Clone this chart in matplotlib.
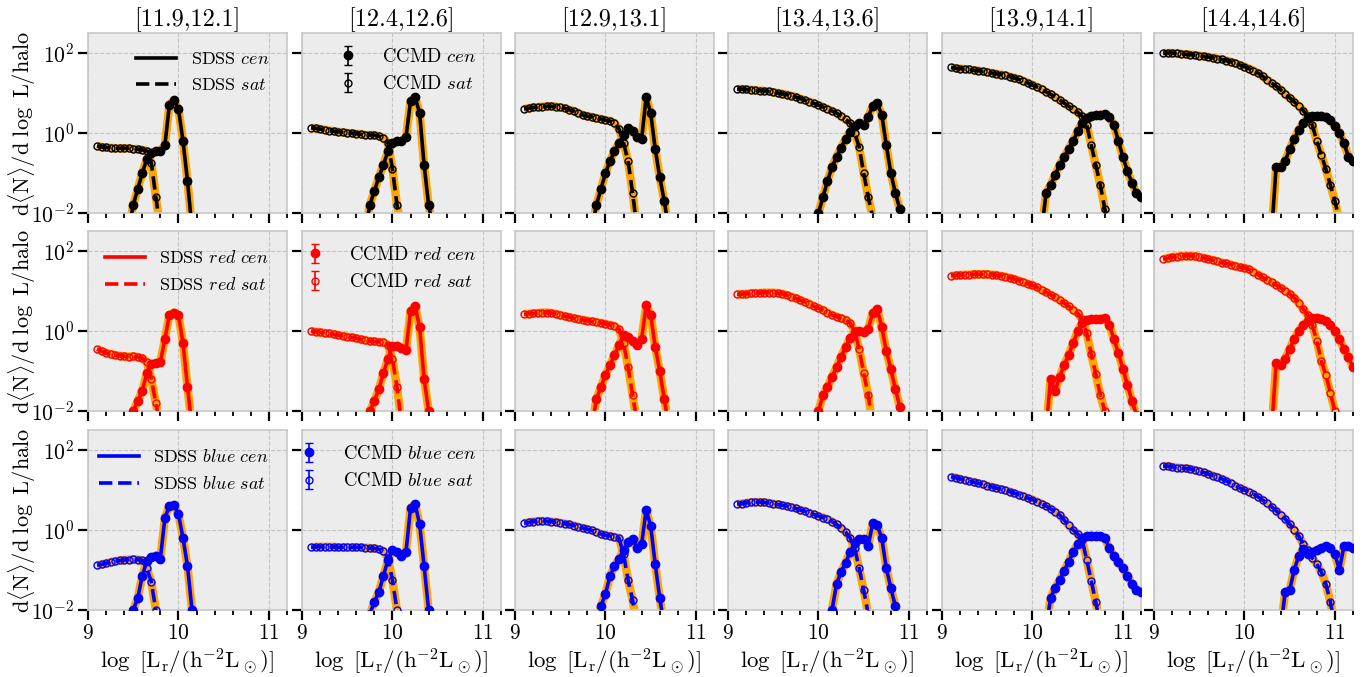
import numpy as np
import matplotlib
matplotlib.use("Agg")
import matplotlib.pyplot as plt
from matplotlib.lines import Line2D
from matplotlib.ticker import MultipleLocator, NullLocator

plt.rcParams['font.family'] = 'cmr10'
plt.rcParams['mathtext.fontset'] = 'cm'
plt.rcParams['axes.formatter.use_mathtext'] = True

# halo mass bins (log M) -> one column each
mass_bins = ['[11.9,12.1]', '[12.4,12.6]', '[12.9,13.1]',
             '[13.4,13.6]', '[13.9,14.1]', '[14.4,14.6]']
rows = ['all', 'red', 'blue']
row_colors = ['black', 'red', 'blue']

# bin width in log L for the tabulated CLFs
dlogL = 0.05

# log10 dN/dlogL; each curve starts at the listed log L
all_sat_x0 = [9.1, 9.1, 9.1, 9.1, 9.1, 9.1]
all_sat = [
    [-0.32, -0.35, -0.36, -0.37, -0.38, -0.38, -0.38, -0.38, -0.40, -0.40, -0.42, -0.45, -0.75, -1.6, -2.4],
    [0.13, 0.12, 0.10, 0.08, 0.06, 0.05, 0.03, 0.02, 0.0, 0.0, -0.02, -0.03, -0.05, -0.05, -0.05, -0.08,
     -0.12, -0.25, -0.9, -1.8, -2.4],
    [0.6, 0.62, 0.64, 0.65, 0.66, 0.67, 0.67, 0.66, 0.64, 0.62, 0.58, 0.55, 0.5, 0.45, 0.42, 0.4, 0.37,
     0.35, 0.32, 0.3, 0.25, 0.1, -0.25, -0.7, -1.5, -2.4],
    [1.1, 1.1, 1.09, 1.08, 1.07, 1.06, 1.05, 1.04, 1.02, 1.0, 0.98, 0.96, 0.93, 0.9, 0.86, 0.82, 0.78,
     0.74, 0.7, 0.65, 0.6, 0.55, 0.5, 0.42, 0.34, 0.25, 0.0, -0.35, -1.0, -1.6, -2.1, -2.5],
    [1.64, 1.62, 1.61, 1.6, 1.59, 1.57, 1.56, 1.54, 1.52, 1.5, 1.48, 1.46, 1.44, 1.41, 1.38, 1.34, 1.3,
     1.25, 1.2, 1.15, 1.1, 1.03, 0.97, 0.9, 0.83, 0.75, 0.67, 0.6, 0.52, 0.42, 0.2, -0.3, -0.8, -1.3,
     -1.9, -2.4],
    [2.0, 2.0, 2.0, 1.99, 1.98, 1.97, 1.96, 1.95, 1.93, 1.92, 1.9, 1.88, 1.86, 1.84, 1.81, 1.78, 1.74,
     1.7, 1.66, 1.61, 1.56, 1.5, 1.42, 1.33, 1.25, 1.17, 1.08, 0.98, 0.88, 0.78, 0.67, 0.56, 0.42, 0.2,
     -0.2, -0.55, -0.9, -1.3, -1.7, -2.2],
]
all_cen_x0 = [9.45, 9.7, 9.85, 9.95, 10.1, 10.3]
all_cen = [
    [-2.4, -1.8, -1.4, -1.0, -0.65, -0.5, -0.45, -0.45, -0.3, 0.7, 0.82, 0.6, -0.2, -1.2, -2.4],
    [-2.4, -1.8, -1.45, -1.1, -0.8, -0.45, -0.25, -0.2, -0.2, -0.1, 0.8, 0.9, 0.5, -0.8, -1.8, -2.4],
    [-2.4, -1.8, -1.4, -1.0, -0.7, -0.45, -0.25, -0.05, 0.12, 0.05, -0.1, -0.15, 0.9, 0.5, -0.4, -1.1,
     -1.7, -2.4],
    [-2.4, -2.0, -1.6, -1.2, -0.85, -0.6, -0.37, -0.15, 0.02, 0.18, 0.25, 0.2, 0.4, 0.68, 0.75, 0.45,
     -0.3, -1.0, -1.5, -1.9, -2.4],
    [-2.5, -1.5, -1.3, -1.05, -0.8, -0.6, -0.4, -0.2, 0.05, 0.25, 0.38, 0.43, 0.45, 0.45, 0.47, 0.4,
     0.2, -0.2, -0.6, -0.95, -1.25, -1.5, -1.6],
    [-2.5, -0.85, -0.85, -0.7, -0.4, -0.15, 0.08, 0.25, 0.38, 0.42, 0.43, 0.43, 0.4, 0.32, 0.18, 0.0,
     -0.25, -0.6, -0.7],
]

red_sat_x0 = [9.1, 9.1, 9.1, 9.1, 9.1, 9.1]
red_sat = [
    [-0.45, -0.5, -0.55, -0.58, -0.6, -0.62, -0.63, -0.64, -0.63, -0.65, -0.68, -0.78, -1.2, -1.8, -2.4],
    [0.0, -0.02, -0.03, -0.05, -0.06, -0.08, -0.1, -0.12, -0.14, -0.16, -0.18, -0.21, -0.23, -0.25,
     -0.26, -0.27, -0.28, -0.35, -0.7, -1.4, -2.3],
    [0.42, 0.43, 0.44, 0.45, 0.46, 0.46, 0.45, 0.43, 0.4, 0.37, 0.35, 0.32, 0.3, 0.28, 0.26, 0.24, 0.22,
     0.2, 0.18, 0.15, 0.12, 0.05, -0.3, -0.9, -1.6, -2.3],
    [0.92, 0.92, 0.93, 0.94, 0.95, 0.95, 0.96, 0.96, 0.96, 0.95, 0.93, 0.9, 0.86, 0.82, 0.77, 0.73, 0.68,
     0.62, 0.57, 0.52, 0.46, 0.4, 0.36, 0.32, 0.28, 0.2, 0.0, -0.45, -1.05, -1.6, -2.4],
    [1.38, 1.39, 1.4, 1.41, 1.41, 1.42, 1.42, 1.42, 1.42, 1.41, 1.4, 1.38, 1.36, 1.33, 1.3, 1.26, 1.22,
     1.18, 1.14, 1.09, 1.03, 0.97, 0.91, 0.84, 0.77, 0.7, 0.62, 0.53, 0.44, 0.3, -0.05, -0.58, -1.08,
     -1.6, -2.0, -2.4],
    [1.8, 1.82, 1.85, 1.86, 1.87, 1.88, 1.88, 1.87, 1.85, 1.83, 1.8, 1.77, 1.74, 1.71, 1.69, 1.66, 1.63,
     1.6, 1.58, 1.54, 1.48, 1.41, 1.34, 1.28, 1.22, 1.15, 1.08, 1.01, 0.93, 0.83, 0.7, 0.55, 0.4, 0.15,
     -0.25, -0.75, -1.1, -1.55, -2.0, -2.4],
]
red_cen_x0 = [9.45, 9.7, 9.85, 9.95, 10.15, 10.3]
red_cen = [
    [-2.4, -2.0, -1.75, -1.5, -1.05, -0.83, -0.8, -0.78, -0.2, 0.4, 0.46, 0.4, -0.3, -1.4, -2.4],
    [-2.4, -2.0, -1.75, -1.45, -1.05, -0.7, -0.38, -0.37, -0.42, -0.48, 0.5, 0.62, 0.1, -1.2, -2.0, -2.4],
    [-2.4, -1.7, -1.4, -1.1, -0.85, -0.6, -0.35, -0.1, -0.15, -0.25, -0.35, -0.2, 0.65, 0.4, -0.4, -1.0,
     -1.7, -2.4],
    [-2.4, -2.0, -1.6, -1.4, -1.15, -0.9, -0.65, -0.4, -0.18, -0.02, 0.0, -0.02, 0.05, 0.45, 0.55, 0.1,
     -0.5, -0.95, -1.45, -1.9, -2.4],
    [-2.5, -1.2, -1.5, -1.15, -0.85, -0.6, -0.3, 0.0, 0.2, 0.28, 0.3, 0.3, 0.3, 0.32, 0.15, -0.2, -0.55,
     -0.95, -1.35, -1.75, -2.1],
    [-2.5, -0.8, -0.85, -0.7, -0.45, -0.2, 0.0, 0.15, 0.25, 0.32, 0.33, 0.3, 0.25, 0.15, 0.0, -0.2,
     -0.45, -0.65, -0.9],
]

blue_sat_x0 = [9.1, 9.1, 9.1, 9.1, 9.1, 9.1]
blue_sat = [
    [-0.88, -0.86, -0.83, -0.8, -0.78, -0.76, -0.75, -0.74, -0.73, -0.74, -0.76, -0.95, -1.3, -2.0, -2.5],
    [-0.43, -0.42, -0.42, -0.42, -0.42, -0.42, -0.43, -0.43, -0.43, -0.43, -0.43, -0.43, -0.44, -0.45,
     -0.46, -0.48, -0.52, -0.7, -1.25, -2.0, -2.5],
    [0.17, 0.19, 0.21, 0.22, 0.23, 0.22, 0.21, 0.2, 0.18, 0.16, 0.14, 0.11, 0.08, 0.05, 0.02, -0.01,
     -0.05, -0.1, -0.13, -0.15, -0.17, -0.2, -0.6, -1.25, -1.75, -2.4],
    [0.65, 0.66, 0.68, 0.69, 0.7, 0.7, 0.69, 0.68, 0.66, 0.64, 0.62, 0.6, 0.57, 0.54, 0.5, 0.47, 0.43,
     0.39, 0.35, 0.31, 0.27, 0.21, 0.14, 0.05, -0.05, -0.2, -0.45, -0.95, -1.5, -2.1, -2.5],
    [1.33, 1.31, 1.28, 1.25, 1.22, 1.2, 1.17, 1.14, 1.11, 1.08, 1.05, 1.02, 0.99, 0.96, 0.92, 0.88, 0.84,
     0.8, 0.76, 0.71, 0.66, 0.6, 0.53, 0.46, 0.38, 0.25, 0.12, 0.0, -0.1, -0.25, -0.75, -1.27, -1.8, -2.4],
    [1.6, 1.6, 1.58, 1.56, 1.55, 1.54, 1.53, 1.5, 1.47, 1.44, 1.4, 1.36, 1.32, 1.28, 1.23, 1.17, 1.11,
     1.05, 1.0, 0.95, 0.9, 0.83, 0.75, 0.67, 0.58, 0.48, 0.38, 0.28, 0.15, 0.0, -0.15, -0.35, -0.5, -0.7,
     -0.85, -1.05, -1.35, -1.8, -2.4],
]
blue_cen_x0 = [9.45, 9.7, 9.9, 10.1, 10.15, 10.4]
blue_cen = [
    [-2.5, -2.0, -1.7, -1.15, -0.78, -0.68, -0.64, -0.72, 0.3, 0.6, 0.62, 0.4, -0.2, -0.9, -2.0, -2.5],
    [-2.5, -2.1, -1.8, -1.55, -1.15, -0.75, -0.5, -0.55, -0.65, -0.55, 0.55, 0.65, 0.15, -0.9, -2.0, -2.5],
    [-2.5, -1.9, -1.6, -1.15, -0.9, -0.72, -0.5, -0.3, -0.23, -0.45, -0.35, 0.5, 0.1, -0.85, -1.7, -2.4],
    [-2.5, -2.0, -1.35, -1.05, -0.82, -0.55, -0.32, -0.22, -0.22, -0.4, 0.18, 0.12, -0.2, -0.95, -1.45,
     -1.9, -2.5],
    [-2.5, -1.7, -1.45, -1.25, -1.02, -0.8, -0.55, -0.35, -0.2, -0.15, -0.14, -0.15, -0.15, -0.2, -0.45,
     -0.65, -0.8, -0.95, -1.15, -1.35, -1.5, -1.55],
    [-2.5, -1.55, -1.5, -1.0, -0.65, -0.48, -0.6, -0.55, -0.5, -0.45, -0.4, -0.45, -0.6, -1.0, -0.4,
     -0.4, -0.45],
]

sat_x0 = [all_sat_x0, red_sat_x0, blue_sat_x0]
sat_data = [all_sat, red_sat, blue_sat]
cen_x0 = [all_cen_x0, red_cen_x0, blue_cen_x0]
cen_data = [all_cen, red_cen, blue_cen]

fig = plt.figure(figsize=(13.7, 6.77), dpi=100)
lefts = [88, 302, 515, 728, 942, 1154]
tops = [33, 231, 430]
W, H = 199, 180

ylab = r'$\mathrm{d}\langle\mathrm{N}\rangle/\mathrm{d}\ \log\ \mathrm{L}/\mathrm{halo}$'
xlab = r'$\log\ [\mathrm{L_r}/(\mathrm{h^{-2}L_\odot})]$'

for r in range(3):
    col = row_colors[r]
    for c in range(6):
        ax = fig.add_axes([lefts[c] / 1370, 1 - (tops[r] + H) / 677, W / 1370, H / 677])
        ax.set_facecolor('#ececec')
        for s in ax.spines.values():
            s.set_color('#c8c8c8')
            s.set_linewidth(1.2)

        for x0, vals, ls, mfc in [(sat_x0[r][c], sat_data[r][c], '--', 'none'),
                                  (cen_x0[r][c], cen_data[r][c], '-', col)]:
            v = np.array(vals)
            x = x0 + dlogL * np.arange(len(v))
            y = 10 ** v
            # mock realisations (orange band)
            ax.fill_between(x, 10 ** (v - 0.1), 10 ** (v + 0.1), color='#ffb000',
                            alpha=0.55, lw=0, zorder=1)
            ax.plot(x, y, color='#ffa500', lw=6, zorder=2, solid_capstyle='butt')
            # SDSS
            ax.plot(x, y, color=col, lw=2.6, ls=ls, zorder=3)
            # CCMD
            ax.plot(x, y, 'o', ms=6 if mfc != 'none' else 5, mfc=mfc, mec=col,
                    mew=1.0, ls='none', zorder=4)

        ax.set_yscale('log')
        ax.set_xlim(9, 11.2)
        ax.set_ylim(1e-2, 10 ** 2.5)
        ax.set_yticks([1e-2, 1, 1e2])
        ax.yaxis.set_minor_locator(NullLocator())
        ax.set_xticks([9, 10, 11])
        ax.xaxis.set_minor_locator(MultipleLocator(0.2))
        ax.grid(True, which='major', color='#c4c4c4', ls='--', lw=0.8)
        ax.set_axisbelow(True)
        ax.tick_params(which='major', direction='out', length=7, width=1.6,
                       colors='black', labelsize=15.5, pad=3)
        ax.tick_params(which='minor', direction='out', length=3.5, width=1.3, colors='black')

        if c != 0:
            ax.tick_params(labelleft=False)
        else:
            ax.set_ylabel(ylab, fontsize=16)
            ax.yaxis.set_label_coords(-0.25, 0.5)
        if r != 2:
            ax.tick_params(labelbottom=False)
        else:
            ax.set_xlabel(xlab, fontsize=16.5, labelpad=2)
        if r == 0:
            ax.set_title(mass_bins[c], fontsize=17.5, pad=5)

        tag = '' if rows[r] == 'all' else rows[r] + r'\ '
        if c == 0:
            h = [Line2D([], [], color=col, lw=2.6, ls='-'),
                 Line2D([], [], color=col, lw=2.6, ls='--')]
            ax.legend(h, [r'SDSS $%scen$' % tag, r'SDSS $%ssat$' % tag],
                      loc='upper right', frameon=False, fontsize=13,
                      handlelength=2.2, handletextpad=0.8, borderaxespad=0.6,
                      labelspacing=0.55)
        if c == 1:
            e1 = ax.errorbar([np.nan], [np.nan], yerr=[1], fmt='o', color=col, ms=6,
                             capsize=3, elinewidth=1.2)
            e2 = ax.errorbar([np.nan], [np.nan], yerr=[1], fmt='o', color=col, mfc='none',
                             ms=5, capsize=3, elinewidth=1.2)
            ax.legend([e1, e2], [r'CCMD $%scen$' % tag, r'CCMD $%ssat$' % tag],
                      loc='upper right', frameon=False, fontsize=13.5,
                      handlelength=1.6, handletextpad=1.0, borderaxespad=0.4,
                      labelspacing=0.5, bbox_to_anchor=(0.95, 1.0))

fig.savefig('out.png', dpi=100)
